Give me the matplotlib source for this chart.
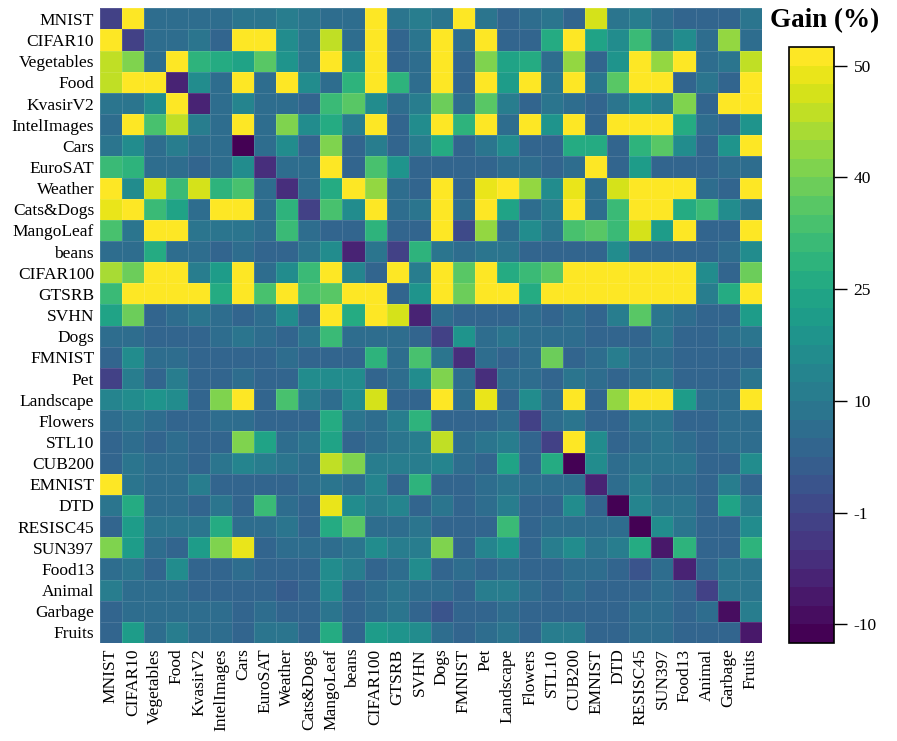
import numpy as np
import matplotlib
matplotlib.use("Agg")
import matplotlib.pyplot as plt
from matplotlib.colors import BoundaryNorm

plt.rcParams["font.family"] = ["Liberation Serif", "DejaVu Serif"]

datasets = ["MNIST", "CIFAR10", "Vegetables", "Food", "KvasirV2", "IntelImages",
            "Cars", "EuroSAT", "Weather", "Cats&Dogs", "MangoLeaf", "beans",
            "CIFAR100", "GTSRB", "SVHN", "Dogs", "FMNIST", "Pet", "Landscape",
            "Flowers", "STL10", "CUB200", "EMNIST", "DTD", "RESISC45", "SUN397",
            "Food13", "Animal", "Garbage", "Fruits"]

# gain (%) per row dataset / column dataset (>50 is clipped)
gain = [
    [-2.5, 55, 7.2, 8, 7.2, 6.5, 9.1, 9.1, 10, 9.1, 7.2, 7.2, 55, 9.1, 11, 8.2, 55, 9.1, 6.3, 7.2, 8.2, 5.4, 47, 9.1, 11, 7.2, 5.4, 5.4, 5.4, 9.1],
    [55, -2.5, 7.2, 7.2, 9.1, 6.3, 55, 55, 16, 9.1, 45.5, 7.2, 55, 6.3, 9.1, 55, 7.2, 55, 5.4, 5.4, 25, 55, 24, 16, 31, 9.1, 15, 7.2, 42, 7.2],
    [45.8, 40, 7.2, 55, 29, 26, 22.5, 36, 19, 9.1, 55, 16, 55, 6.3, 7.2, 55, 5.4, 40, 24, 25, 7.2, 42, 5.4, 18, 55, 43, 55, 7.2, 9.1, 45],
    [45, 55, 55, -6, 16, 7.2, 55, 7.2, 55, 16, 7.2, 29, 55, 29, 7.2, 55, 6.3, 55, 20, 55, 9.1, 55, 9.1, 36, 55, 55, 6.3, 8.2, 5.4, 55],
    [9.1, 9.1, 15, 55, -6, 7.2, 12.5, 7.2, 7.2, 6.3, 31, 36, 16, 7.2, 10, 39, 7.2, 36, 11, 5.4, 8.2, 7.2, 5.4, 9.1, 16, 11, 40, 5.4, 55, 55],
    [7.2, 55, 33, 45.5, 12, 7.2, 55, 7.2, 40.5, 16, 26, 10, 55, 6.3, 16, 55, 29, 55, 7.2, 55, 18, 55, 5.4, 55, 55, 55, 25, 7.2, 5.4, 19],
    [9.1, 15, 7.2, 11, 7.2, 7.2, -12, 7.2, 15, 5.4, 40, 6.3, 11, 5.4, 12, 26, 5.4, 8.2, 16, 5.4, 5.4, 26, 25, 5.4, 29, 36, 15, 5.4, 18, 55],
    [31, 29, 7.2, 7.2, 6.3, 7.2, 15, -5.5, 7.2, 7.2, 55, 5.4, 34, 18, 5.4, 5.4, 5.4, 5.4, 7.2, 7.2, 5.4, 7.2, 55, 5.4, 20, 5.4, 5.4, 5.4, 7.2, 7.2],
    [55, 16, 47, 32, 47, 29, 34, 7.2, -5, 7.2, 26, 55, 43, 7.2, 5.4, 55, 6.3, 49, 55, 43, 16, 49, 7.2, 47, 55, 55, 55, 7.2, 5.4, 55],
    [49, 55, 32, 24, 7.2, 55, 55, 7.2, 29, -2, 34, 16, 55, 7.2, 8.2, 55, 7.2, 55, 22.5, 7.2, 12, 55, 7.2, 31, 55, 55, 26, 31, 16, 9.1],
    [34, 9.1, 55, 55, 9.1, 9.1, 9.1, 7.2, 31, 7.2, 5.4, 5.4, 29, 5.4, 5.4, 55, -1, 42, 7.2, 15, 9.1, 34, 36, 32, 47, 20, 55, 5.4, 5.4, 55],
    [7.2, 7.2, 25, 7.2, 7.2, 5.4, 7.2, 5.4, 6.3, 8.2, 17, -6, 8.2, -2, 29, 9.1, 7.2, 9.1, 9.1, 5.4, 6.3, 5.4, 6.3, 15, 5.4, 5.4, 5.4, 5.4, 7.2, 15],
    [44, 39, 55, 55, 11, 21, 55, 7.2, 16, 31, 55, 14, 5.4, 55, 12, 55, 36, 55, 26, 32, 36, 55, 55, 55, 55, 55, 55, 15, 5.4, 39],
    [31, 55, 55, 55, 55, 26, 55, 34, 55, 34, 36, 55, 55, 5.4, 18, 55, 39, 55, 55, 26, 55, 55, 55, 55, 55, 55, 55, 12, 26, 55],
    [24, 39, 5.4, 7.2, 9.1, 7.2, 5.4, 7.2, 15, 5.4, 55, 26, 55, 47, -6, 7.2, 5.4, 5.4, 5.4, 7.2, 5.4, 7.2, 5.4, 12, 36, 8.2, 7.2, 5.4, 5.4, 20],
    [7.2, 7.2, 5.4, 5.4, 5.4, 7.2, 9.1, 7.2, 5.4, 9.1, 32, 7.2, 7.2, 7.2, 5.4, -2.5, 18, 7.2, 9.1, 7.2, 7.2, 7.2, 5.4, 5.4, 6.3, 9.1, 5.4, 5.4, 7.2, 9.1],
    [5.4, 15, 7.2, 7.2, 5.4, 5.4, 6.3, 5.4, 7.2, 5.4, 5.4, 5.4, 29, 7.2, 34, 9.1, -5.5, 7.2, 5.4, 7.2, 39, 5.4, 7.2, 12, 7.2, 7.2, 5.4, 5.4, 5.4, 5.4],
    [-2.5, 12, 5.4, 10, 5.4, 5.4, 7.2, 5.4, 5.4, 15, 15, 17, 6.3, 7.2, 15, 40, 7.2, -5.5, 7.2, 7.2, 5.4, 9.1, 7.2, 5.4, 7.2, 9.1, 5.4, 5.4, 5.4, 9.1],
    [14, 15, 18, 15, 5.4, 40, 55, 6.3, 34, 10, 7.2, 16, 47, 5.4, 5.4, 55, 7.2, 49, 5.4, 15, 7.2, 55, 5.4, 42, 55, 55, 22, 7.2, 7.2, 55],
    [7.2, 9.1, 7.2, 5.4, 5.4, 7.2, 7.2, 5.4, 5.4, 5.4, 26, 9.1, 7.2, 11, 29, 5.4, 5.4, 5.4, 7.2, -2.5, 7.2, 9.1, 5.4, 5.4, 9.1, 9.1, 5.4, 5.4, 7.2, 7.2],
    [5.4, 7.2, 5.4, 7.2, 5.4, 5.4, 40, 24, 7.2, 9.1, 24, 5.4, 7.2, 9.1, 10, 45.5, 7.2, 9.1, 11, 5.4, -2.5, 55, 15, 5.4, 7.2, 9.1, 7.2, 5.4, 7.2, 7.2],
    [5.4, 9.1, 7.2, 7.2, 5.4, 9.1, 14, 12, 9.1, 7.2, 45.5, 40, 11, 10, 10, 14, 7.2, 5.4, 24, 5.4, 26, -10.5, 16, 7.2, 9.1, 9.1, 9.1, 5.4, 5.4, 15],
    [55, 9.1, 7.2, 7.2, 11, 5.4, 5.4, 5.4, 5.4, 7.2, 9.1, 7.2, 14, 5.4, 29, 5.4, 5.4, 7.2, 8.2, 7.2, 7.2, 7.2, -6, 7.2, 11, 7.2, 7.2, 5.4, 12, 5.4],
    [9.1, 26, 7.2, 7.2, 5.4, 9.1, 5.4, 32, 7.2, 5.4, 49, 15, 12, 14, 5.4, 9.1, 5.4, 7.2, 12, 5.4, 5.4, 15, 5.4, -12, 14, 9.1, 9.1, 5.4, 24, 12],
    [5.4, 21, 8.2, 8.2, 8.2, 26, 7.2, 7.2, 9.1, 5.4, 26, 37, 7.2, 7.2, 9.1, 5.4, 5.4, 5.4, 32, 5.4, 7.2, 7.2, 7.2, 7.2, -12, 16, 9.1, 5.4, 5.4, 16],
    [40, 22, 7.2, 5.4, 21, 40, 49, 5.4, 7.2, 7.2, 7.2, 9.1, 15, 12, 12, 40, 5.4, 14, 18, 5.4, 11, 16, 9.1, 12, 26, -8, 29, 5.4, 6.3, 29],
    [7.2, 8.2, 5.4, 15, 5.4, 5.4, 7.2, 5.4, 5.4, 5.4, 17, 11, 5.4, 7.2, 15, 5.4, 7.2, 5.4, 7.2, 5.4, 5.4, 7.2, 7.2, 5.4, 1.8, 7.2, -6, 5.4, 9.1, 9.1],
    [11, 7.2, 7.2, 7.2, 5.4, 5.4, 5.4, 5.4, 3.6, 5.4, 15, 5.4, 7.2, 8.2, 7.2, 7.2, 5.4, 11, 12, 7.2, 5.4, 7.2, 5.4, 5.4, 5.4, 7.2, 5.4, -2.5, 9.1, 9.1],
    [5.4, 7.2, 7.2, 7.2, 7.2, 7.2, 5.4, 7.2, 5.4, 5.4, 9.1, 5.4, 7.2, 9.1, 5.4, 1.8, 5.4, 5.4, 7.2, 5.4, 5.4, 5.4, 5.4, 5.4, 7.2, 7.2, 5.4, 7.2, -9.5, 12],
    [5.4, 22, 7.2, 11, 7.2, 7.2, 5.4, 9.1, 9.1, 5.4, 26, 5.4, 21, 18, 16, 7.2, 5.4, 7.2, 9.1, 5.4, 10, 12, 5.4, 5.4, 7.2, 7.2, 5.4, 5.4, 5.4, -8],
]

cbar_ticks = [-10, -1, 10, 25, 40, 50]

# colorbar scale: ticks sit evenly, 6 colour steps apart, 32 steps in all
n_colors = 32
anchor_pos = [0, 1, 7, 13, 19, 25, 31, 32]
anchor_val = [-11.5, -10, -1, 10, 25, 40, 50, 51.67]
bounds = np.interp(np.arange(n_colors + 1), anchor_pos, anchor_val)
cmap = plt.get_cmap("viridis", n_colors)
norm = BoundaryNorm(bounds, n_colors, clip=True)

data = np.array(gain)
n = len(datasets)

fig = plt.figure(figsize=(8.97, 7.41), dpi=100)
ax = fig.add_axes([99.7 / 897, 1 - 643 / 741, 662 / 897, 634.7 / 741])
mesh = ax.pcolormesh(data, cmap=cmap, norm=norm,
                     edgecolors=(1, 1, 1, 0.12), linewidth=0.5)
ax.set_xlim(0, n)
ax.set_ylim(n, 0)
ax.set_xticks(np.arange(n) + 0.5)
ax.set_yticks(np.arange(n) + 0.5)
ax.set_xticklabels(datasets, rotation=90, fontsize=12.5)
ax.set_yticklabels(datasets, fontsize=12.5)
ax.tick_params(length=0, pad=4)
for s in ax.spines.values():
    s.set_visible(False)

cax = fig.add_axes([789 / 897, 1 - 643 / 741, 45 / 897, 596 / 741])
cb = fig.colorbar(mesh, cax=cax, ticks=cbar_ticks, spacing="uniform")
cb.ax.minorticks_off()
cb.ax.set_yticklabels([str(t) for t in cbar_ticks], fontsize=12.5)
cb.ax.tick_params(length=9, width=1, pad=5)
cb.outline.set_linewidth(1.2)

fig.text(825 / 897, 1 - 21 / 741, "Gain (%)", ha="center", va="center",
         fontsize=19.5, fontweight="bold")

fig.savefig("out.png", dpi=100)
